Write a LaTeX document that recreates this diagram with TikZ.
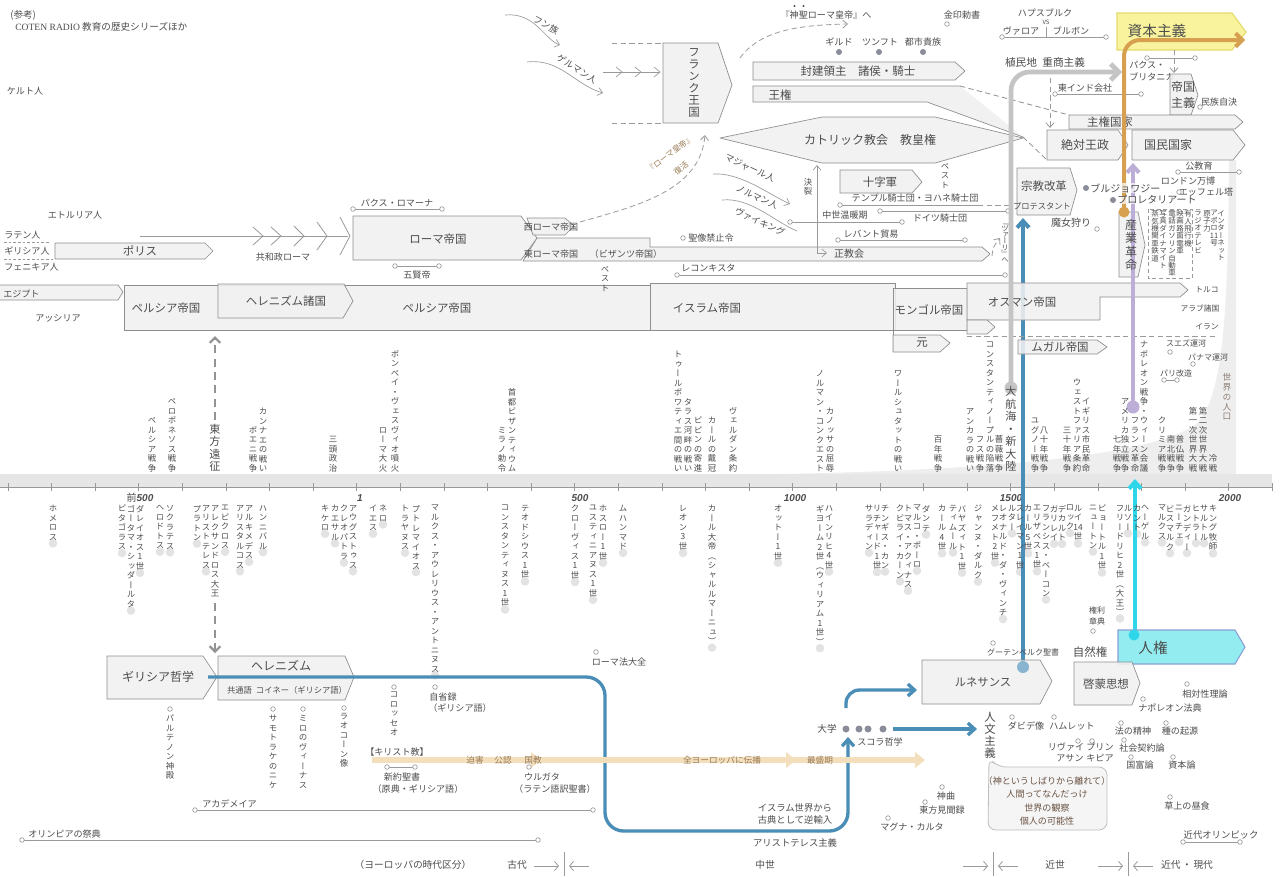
\documentclass[tikz,border=0pt]{standalone}
\usepackage{fontspec}
\setmainfont{Noto Sans CJK JP}
\newfontfamily\jpv[RawFeature=+vert]{Noto Sans CJK JP}
\newfontfamily\numf{Liberation Sans}
\newfontfamily\serf{Liberation Serif}
\usetikzlibrary{arrows.meta}
\pgfdeclarelayer{bg}
\pgfsetlayers{bg,main}
\definecolor{txt}{HTML}{4D4D4D}
\definecolor{boxl}{HTML}{8E8E8E}
\definecolor{boxf}{HTML}{F1F1F1}
\definecolor{linec}{HTML}{9A9A9A}
\definecolor{bandc}{HTML}{E6E6E6}
\definecolor{popc}{HTML}{EEEEEE}
\definecolor{blueA}{HTML}{4A8DB7}
\definecolor{cyanA}{HTML}{2ED6EA}
\definecolor{purpA}{HTML}{BCAED6}
\definecolor{grayA}{HTML}{C4C4C4}
\definecolor{orangeA}{HTML}{D6A050}
\definecolor{yelF}{HTML}{F8F39C}
\definecolor{yelL}{HTML}{E3DB6E}
\definecolor{cyanF}{HTML}{93ECEF}
\definecolor{cyanL}{HTML}{8C9FD6}
\definecolor{xtian}{HTML}{F3DFBC}
\definecolor{xtxt}{HTML}{9A7A55}
\definecolor{calt}{HTML}{6B5444}
\definecolor{dotc}{HTML}{E3E3E3}
\definecolor{dkdot}{HTML}{8A8D99}
\definecolor{popt}{HTML}{8C7B70}
\newcommand\fsz[1]{\fontsize{#1}{#1}\selectfont}
\newcommand\vtloop[1]{\ifx\relax#1\else\hbox to 1em{\hss#1\hss}\expandafter\vtloop\fi}
\newcommand\vtx[2][1.13em]{\vbox{\jpv\baselineskip=#1\lineskiplimit=-100pt\lineskip=0pt\vtloop#2\relax}}
\tikzset{
 lab/.style={inner sep=0pt,text=txt,font=\fsz{6.8}},
 mlab/.style={inner sep=0pt,text=txt,font=\fsz{8.6}},
 vlab/.style={inner sep=0pt,text=txt,font=\fsz{6.3}},
 box/.style={draw=boxl,fill=boxf,fill opacity=0.88,line width=0.5pt,line join=round},
 tl/.style={draw=linec,line width=0.5pt},
 ocs/.style={draw=linec,fill=white,line width=0.5pt},
 dshl/.style={draw=linec,line width=0.6pt,dash pattern=on 4pt off 2.5pt},
 barb/.style={-{Straight Barb[length=3.5pt,width=6pt]}},
}
\newcommand\ocir[2]{\filldraw[ocs] (#1,#2) circle (2.3);}
\newcommand\oln[3]{\draw[tl] (#1,#3) -- (#2,#3);\ocir{#1}{#3}\ocir{#2}{#3}}
\newcommand\vup[3][]{\node[vlab,anchor=south,#1] at (#2,472) {\vtx{#3}};}
\newcommand\vdn[3][]{\node[vlab,anchor=north,#1] (vd#2) at (#2,505) {\vtx{#3}};\begin{pgfonlayer}{bg}\fill[dotc] ([yshift=-2pt]vd#2.south) circle (4.3);\end{pgfonlayer}}
\begin{document}
\begin{tikzpicture}[x=0.75pt,y=-0.75pt]
\begin{pgfonlayer}{bg}\fill[white] (0,0) rectangle (1280,876);\end{pgfonlayer}
\useasboundingbox (0,0) rectangle (1280,876);
% population and axis band
\fill[popc] (780,474) .. controls (1000,470) and (1150,455) .. (1195,425) .. controls (1225,400) and (1228,300) .. (1229,160) -- (1236,160) -- (1236,474) -- cycle;
\fill[bandc] (0,474) rectangle (1272,487);
\draw[draw=gray!80,line width=0.6pt] (0,487) -- (1272,487);
\foreach \k in {0,...,29} \draw[draw=gray!80,line width=0.6pt] ({8+43.6*\k},483) -- ({8+43.6*\k},491);
\node[lab,font=\fsz{7.5}] (y500b) at (140,498) {前{\numf\bfseries\itshape 500}};
\node[lab,font=\fsz{7.5}] (y1) at (360,498) {{\numf\bfseries\itshape 1}};
\node[lab,font=\fsz{7.5}] (y500) at (580,498) {{\numf\bfseries\itshape 500}};
\node[lab,font=\fsz{7.5}] (y1000) at (795,498) {{\numf\bfseries\itshape 1000}};
\node[lab,font=\fsz{7.5}] (y1500) at (1011,498) {{\numf\bfseries\itshape 1500}};
\node[lab,font=\fsz{7.5}] (y2000) at (1230,498) {{\numf\bfseries\itshape 2000}};
% early colour lines (behind)
\draw[blueA,line width=3pt,-{Straight Barb[length=5pt,width=9pt]}] (1023,665) -- (1023,218);
\draw[cyanA,line width=3pt,-{Straight Barb[length=5pt,width=9pt]}] (1135,635) -- (1135,479);
% header
\node[lab,anchor=west,font=\fsz{7.2}] (hdr1) at (10,15) {(参考)};
\node[lab,anchor=west,font=\fsz{7.2}] (hdr2) at (15,27) {{\serf COTEN RADIO} 教育の歴史シリーズほか};
% peoples
\node[lab] (kelt) at (25,91) {ケルト人};
\node[lab] (etr) at (75,215) {エトルリア人};
\node[lab,anchor=west] (lat) at (4,235) {ラテン人};
\draw[dshl,dash pattern=on 2pt off 1.5pt] (4,242)--(50,242);
\node[lab,anchor=west] (gre) at (4,251) {ギリシア人};
\draw[dshl,dash pattern=on 2pt off 1.5pt] (4,259)--(55,259);
\node[lab,anchor=west] (phe) at (4,267) {フェニキア人};
% polis
\draw[box] (55,243)--(205,243)--(213,251)--(205,259)--(55,259)--cycle;
\node[mlab] (polis) at (140,251) {ポリス};
% republic
\draw[tl] (140,236)--(348,236);
\foreach \x/\h in {263/9,281/9,304/10,327/14,350/19} \draw[tl,line width=0.6pt] (\x-10,236-\h)--(\x,236)--(\x-10,236+\h);
\node[lab] (repub) at (283,257) {共和政ローマ};
% egypt persia
\draw[box] (0,285)--(118,285)--(123,292)--(118,300)--(0,300);
\node[lab,anchor=west] (egy) at (3,294) {エジプト};
\node[lab] (assy) at (58,318) {アッシリア};
\draw[box] (124,285) rectangle (650,330);
\draw[box] (218,284)--(344,284)--(353,301)--(343,318)--(218,318)--cycle;
\node[mlab] (pers1) at (166,308) {ペルシア帝国};
\node[mlab] (helst) at (286,301) {ヘレニズム諸国};
\node[mlab] (pers2) at (437,308) {ペルシア帝国};
\draw[box] (650,283) rectangle (895,330);
\node[mlab] (islam) at (707,308) {イスラム帝国};
\draw[box] (893,288) rectangle (967,330);
\draw[boxl,line width=0.5pt] (893,330)--(893,352);
\draw[box] (893,335)--(940,335)--(950,343)--(940,352)--(893,352)--cycle;
\node[mlab] (mong) at (929,310) {モンゴル帝国};
\node[mlab] (yuan) at (922,343) {元};
\draw[box] (967,283)--(1180,283)--(1188,290)--(1180,297)--(1100,297)--(1100,320)--(967,320)--cycle;
\draw[box] (967,320)--(987,320)--(995,327)--(987,334)--(967,334)--cycle;
\node[mlab] (otto) at (1022,302) {オスマン帝国};
\draw[dshl] (967,336)--(1217,336);
\node[lab,font=\fsz{5.8}] (turk) at (1207,290) {トルコ};
\node[lab,font=\fsz{5.8}] (arab) at (1200,308) {アラブ諸国};
\node[lab,font=\fsz{5.8}] (iran) at (1207,327) {イラン};
\draw[box] (1018,340)--(1097,340)--(1107,347)--(1097,354)--(1018,354)--cycle;
\node[mlab] (mughal) at (1060,347) {ムガル帝国};
% rome
\draw[box] (353,216)--(521,216)--(537,238)--(521,260)--(353,260)--cycle;
\node[mlab] (rome) at (438,239) {ローマ帝国};
\draw[box] (537,238)--(650,238)--(650,247)--(982,247)--(990,254)--(982,261)--(523,261)--cycle;
\draw[box] (527,218)--(565,218)--(574,226)--(565,235)--(533,235)--cycle;
\node[lab] (wrome) at (551,227) {西ローマ帝国};
\node[lab] (erome) at (551,254) {東ローマ帝国};
\node[lab] (byz) at (626,254) {（ビザンツ帝国）};
\oln{353}{442}{209}
\node[lab] (pax) at (397,203) {パクス・ロマーナ};
\oln{395}{439}{266}
\node[lab] (gokentei) at (417,275) {五賢帝};
\node[vlab,anchor=north] (pest1) at (605,266) {\vtx{ペスト}};
\draw[dshl,barb] (580,222) .. controls (640,205) and (700,190) .. (705,135);
\node[lab,rotate=38,font=\fsz{6},text=xtxt] (romrev1) at (670,154) {『ローマ皇帝』};
\node[lab,rotate=38,font=\fsz{6},text=xtxt] (romrev2) at (681,168) {復活};
% huns germans
\draw[tl,barb] (505,15) .. controls (535,12) and (545,40) .. (560,45);
\node[lab,rotate=-28] (hun) at (546,25) {フン族};
\draw[tl,barb] (527,62) .. controls (560,58) and (575,85) .. (603,93);
\node[lab,rotate=-32] (germ) at (577,69) {ゲルマン人};
\draw[tl] (603,72)--(660,72);
\foreach \x in {622,641,660} \draw[tl] (\x-6,67)--(\x,72)--(\x-6,77);
% frank
\draw[dshl] (612,43)--(663,43);
\draw[dshl] (612,123)--(663,123);
\draw[box] (663,43)--(718,43)--(732,85)--(718,123)--(663,123)--cycle;
\node[vlab,font=\fsz{8.6}] (frank) at (694,83) {\vtx[1.05em]{フランク王国}};
% holy roman
\draw[dshl,barb] (740,58) .. controls (760,30) and (800,25) .. (848,24);
\node[lab] (hre) at (826,15) {『神聖ローマ皇帝』へ};
\fill[txt] (794.5,6) circle (1.2) (803.5,6) circle (1.2);
\node[lab] (kinin) at (962,15) {金印勅書};
\ocir{947}{24}
\node[lab] (habs) at (1045,13) {ハプスブルク};
\node[lab,font=\fsz{4.5}] (vs) at (1046,22) {VS};
\node[lab] (valo) at (1021,31) {ヴァロア};
\node[lab] (bour) at (1071,31) {ブルボン};
\oln{1002}{1106}{37}
\draw[tl] (1046,27)--(1046,37);
% capitalism
\draw[fill=yelF,draw=yelL,line width=0.8pt] (1117,13)--(1232,13)--(1246,32)--(1232,50)--(1117,50)--cycle;
\node[inner sep=0pt,text=txt,font=\fsz{11}] (cap) at (1157,31) {資本主義};
% guild
\node[lab] (guild) at (839,42) {ギルド};
\node[lab] (zunft) at (880,42) {ツンフト};
\node[lab] (patr) at (923,42) {都市貴族};
\fill[dkdot] (839,52) circle (3) (879,52) circle (3) (923,52) circle (3);
% feudal, kingship
\draw[box] (753,62)--(955,62)--(965,71)--(955,80)--(753,80)--cycle;
\node[mlab] (feud) at (858,71) {封建領主\quad 諸侯・騎士};
\fill[boxf] (753,86)--(960,86)--(1023,137)--(927,102)--(753,102)--cycle;
\draw[boxl,line width=0.5pt] (960,86)--(753,86)--(753,102)--(927,102)--(1023,137);
\draw[dshl,draw=boxl] (960,86)--(1069,115);
\draw[dshl,draw=boxl] (1023,137)--(1047,160);
\node[mlab] (ouken) at (780,95) {王権};
% catholic
\draw[box] (720,138)--(822,117)--(935,117)--(1023,138)--(935,163)--(822,163)--cycle;
\node[mlab,font=\fsz{9}] (cath) at (870,140) {カトリック教会\quad 教皇権};
% crusade etc
\draw[box] (840,170)--(912,170)--(922,182)--(912,193)--(840,193)--cycle;
\node[mlab] (crus) at (880,182) {十字軍};
\node[vlab] (pest2) at (945,176) {\vtx{ペスト}};
\node[vlab] (ketsu) at (808,187) {\vtx{決裂}};
\draw[tl,{Straight Barb[length=3.5pt,width=6pt]}-{Straight Barb[length=3.5pt,width=6pt]}] (817,165)--(817,253)--(827,253);
\node[lab,font=\fsz{7.5}] (orth) at (849,254) {正教会};
\draw[tl,barb] (713,174) .. controls (740,172) and (770,195) .. (790,204);
\node[lab,rotate=-25] (magy) at (750,168) {マジャール人};
\draw[tl] (722,200) .. controls (750,197) and (775,222) .. (797,231);
\node[lab,rotate=-25] (norm) at (757,197) {ノルマン人};
\node[lab,rotate=-25] (vik) at (760,222) {ヴァイキング};
\node[lab] (templ) at (915,198) {テンプル騎士団・ヨハネ騎士団};
\draw[tl] (840,205)--(978,205);
\draw[dshl] (978,205)--(1010,205);
\ocir{840}{205}
\draw[tl] (880,211)--(1008,211);
\ocir{880}{211}\ocir{1008}{211}
\node[lab] (teut) at (940,218) {ドイツ騎士団};
\oln{790}{902}{222}
\node[lab,fill=white,inner xsep=1pt] (warm) at (845,215) {中世温暖期};
\node[lab] (levant) at (871,234) {レバント貿易};
\oln{838}{965}{240}
\ocir{683}{238}
\node[lab,anchor=west] (icon) at (688,238) {聖像禁止令};
\oln{677}{1005}{275}
\node[lab,anchor=west] (recon) at (681,268) {レコンキスタ};
\node[vlab,font=\fsz{5.5}] (tsar) at (1005,243) {\vtx[0.85em]{『ツァーリ』へ}};
\draw[dshl,barb] (992,256) .. controls (993,247) .. (1000,238);
% colonial
\node[mlab,font=\fsz{8}] (colon) at (1045,62) {植民地\enspace 重商主義};
\draw[dshl,barb] (1050,78)--(1050,128);
\node[lab] (eic) at (1085,88) {東インド会社};
\oln{1055}{1141}{94}
\node[lab,anchor=west] (paxb1) at (1129,65) {パクス・};
\node[lab,anchor=west] (paxb2) at (1129,77) {ブリタニカ};
\oln{1147}{1195}{58}
\draw[dshl,barb] (1174,50)--(1174,73);
\draw[box] (1170,74)--(1191,74)--(1198,95)--(1191,115)--(1170,115)--cycle;
\node[inner sep=0pt,text=txt,align=center,font={\fontsize{9}{12}\selectfont}] (imper) at (1183,95) {帝国\\主義};
\node[lab] (selfdet) at (1219,102) {民族自決};
\ocir{1200}{107}
\draw[box] (1069,115)--(1235,115)--(1243,122)--(1235,129)--(1069,129)--cycle;
\node[mlab] (sover) at (1110,122) {主権国家};
\draw[box] (1047,130)--(1118,130)--(1128,145)--(1118,160)--(1047,160)--cycle;
\node[mlab,font=\fsz{9}] (absol) at (1085,145) {絶対王政};
\draw[box] (1132,130)--(1233,130)--(1245,145)--(1233,160)--(1132,160)--cycle;
\node[mlab,font=\fsz{9}] (nation) at (1168,145) {国民国家};
% reformation
\draw[box] (1017,168)--(1070,168)--(1077,190)--(1070,215)--(1017,215)--cycle;
\node[mlab] (refor) at (1044,186) {宗教改革};
\node[lab,font=\fsz{6.2}] (prot) at (1042,206) {プロテスタント};
% industrial revolution box
\draw[box] (1119,212)--(1138,212)--(1145,245)--(1138,277)--(1119,277)--cycle;
% late colour arrows
\draw[grayA,line width=3.5pt,rounded corners=14pt,-{Straight Barb[length=6pt,width=12pt]}] (1011,388)--(1011,72)--(1122,72);
\fill[grayA] (1011,388) circle (6.5);
\draw[purpA,line width=3pt,-{Straight Barb[length=5pt,width=9pt]}] (1133,407)--(1133,163);
\fill[purpA] (1133,407) circle (6.5);
\draw[orangeA,line width=3pt,rounded corners=12pt,-{Straight Barb[length=5pt,width=10pt]}] (1124,212)--(1124,40)--(1245,40);
\fill[orangeA] (1124,212) circle (5.5);
% labels over the colour lines
\fill[dkdot] (1086,188) circle (3) (1113,200) circle (3);
\node[lab,anchor=west,font=\fsz{7.5},fill=white,fill opacity=0.7,text opacity=1] (bourg) at (1090,188) {ブルジョワジー};
\node[lab,anchor=west,font=\fsz{7.5},fill=white,fill opacity=0.7,text opacity=1] (prol) at (1117,200) {プロレタリアート};
\node[lab,font=\fsz{7.5}] (witch) at (1071,223) {魔女狩り};
\ocir{1097}{229}
\node[vlab,font=\fsz{9}] (indus) at (1131,245) {\vtx[1.1em]{産業革命}};
\draw[dshl,dash pattern=on 3pt off 2pt] (1148,209) rectangle (1192,278);
\node[vlab,anchor=north,font=\fsz{5.6}] (inv1) at (1155,210) {\vtx[1.0em]{蒸気機関車鉄道}};
\node[vlab,anchor=north,font=\fsz{5.6}] (inv2) at (1163,210) {\vtx[1.0em]{写真ダイナマイト}};
\node[vlab,anchor=north,font=\fsz{5.6}] (inv3) at (1172,210) {\vtx[1.0em]{電話ガソリン自動車}};
\node[vlab,anchor=north,font=\fsz{5.6}] (inv4) at (1180,210) {\vtx[1.0em]{映画路面電車}};
\node[vlab,anchor=north,font=\fsz{5.6}] (inv5) at (1188,210) {\vtx[1.0em]{有人飛行機}};
\node[vlab,anchor=north,font=\fsz{5.6}] (inv6) at (1198,210) {\vtx[1.0em]{ラジオテレビ}};
\node[vlab,anchor=north,font=\fsz{5.6}] (inv7) at (1207,210) {\vtx[1.0em]{原子力}};
\node[vlab,anchor=north,font=\fsz{5.6}] (inv8) at (1214,210) {\vtx[1.0em]{アポロ{11}号}};
\node[vlab,anchor=north,font=\fsz{5.6}] (inv9) at (1221,210) {\vtx[1.0em]{インターネット}};
\node[lab] (pubed) at (1199,166) {公教育};
\oln{1178}{1239}{172}
\node[lab] (lonexp) at (1188,181) {ロンドン万博};
\node[lab] (eiffel) at (1206,192) {エッフェル塔};
\ocir{1179}{192}
% canals
\node[lab,font=\fsz{6}] (suez) at (1186,343) {スエズ運河};
\ocir{1170}{352}
\node[lab,font=\fsz{6}] (panama) at (1208,357) {パナマ運河};
\ocir{1193}{364}
\node[lab,font=\fsz{6}] (paris) at (1176,373) {パリ改造};
\oln{1164}{1177}{380}
\node[vlab,font=\fsz{6.5},text=popt] (popu) at (1227,397) {\vtx{世界の人口}};
% above axis
\vup{152}{ペルシア戦争}
\vup{172}{ペロポネソス戦争}
\vup[font=\fsz{8.3}]{215}{東方遠征}
\vup{253}{ポエニ戦争}
\vup{263}{カンナエの戦い}
\vup{333}{三頭政治}
\vup{383}{ローマ大火}
\vup{395}{ポンペイ・ヴェスヴィオ噴火}
\vup{502}{ミラノ勅令}
\vup{512}{首都ビザンティウム}
\vup{678}{トゥールポワティエ間の戦い}
\vup{688}{タラス河畔の戦い}
\vup{698}{ピピンの寄進}
\vup{712}{カールの戴冠}
\vup{733}{ヴェルダン条約}
\vup{820}{ノルマン・コンクエスト}
\vup{830}{カノッサの屈辱}
\vup{898}{ワールシュタットの戦い}
\vup{938}{百年戦争}
\vup{970}{アンカラの戦い}
\vup{980}{フス戦争}
\vup{990}{コンスタンティノープルの陥落}
\vup{999}{薔薇戦争}
\vup[font=\fsz{8.3}]{1011}{大航海・新大陸}
\vup{1035}{ユグノー戦争}
\vup{1044}{八十年戦争}
\vup{1067}{三十年戦争}
\vup{1077}{ウェストファリア条約}
\vup{1086}{イギリス市民革命}
\vup{1117}{七年戦争}
\vup{1125}{アメリカ独立戦争}
\vup{1135}{フランス革命}
\vup{1144}{ナポレオン戦争・ウィーン会議}
\vup{1162}{クリミア戦争}
\vup{1171}{南北戦争}
\vup{1180}{普仏戦争}
\vup{1193}{第一次世界大戦}
\vup{1203}{第二次世界大戦}
\vup{1213}{冷戦}
% below axis
\vdn{53}{ホメロス}
\vdn{122}{ピタゴラス}
\vdn{131}{ゴータマ・シッダールタ}
\vdn{140}{ダレイオス1世}
\vdn{160}{ヘロドトス}
\vdn{170}{ソクラテス}
\vdn{197}{プラトン}
\vdn{206}{アリストテレス}
\node[vlab,anchor=north] (alex) at (215,505) {\vtx{アレクサンドロス大王}};
\vdn{225}{エピクロス}
\vdn{240}{アリスタルコス}
\vdn{249}{アルキメデス}
\vdn{263}{ハンニバル}
\vdn{325}{キケロ}
\vdn{335}{カエサル}
\vdn{344}{クレオパトラ}
\vdn{353}{アウグストゥス}
\vdn{373}{イエス}
\vdn{383}{ネロ}
\vdn{405}{トラヤヌス}
\vdn{416}{プトレマイオス}
\vdn{435}{マルクス・アウレリウス・アントニヌス}
\vdn{505}{コンスタンティヌス1世}
\vdn{525}{テオドシウス1世}
\vdn{575}{クローヴィス1世}
\vdn{593}{ユスティニアヌス1世}
\vdn{603}{ホスロー1世}
\vdn{623}{ムハンマド}
\vdn{683}{レオン3世}
\vdn{712}{カール大帝（シャルルマーニュ）}
\vdn{778}{オットー1世}
\vdn{820}{ギヨーム2世（ウィリアム1世）}
\vdn{829}{ハインリヒ4世}
\vdn{869}{サラディン}
\vdn{877}{リチャード1世}
\vdn{885}{チンギス・カン}
\vdn{900}{クビライ・カーン}
\vdn{908}{トマス・アクィナス}
\vdn{917}{マルコ・ポーロ}
\vdn{926}{ダンテ}
\vdn{942}{カール4世}
\vdn{953}{ティムール}
\vdn{962}{バヤズィト1世}
\vdn{978}{ジャンヌ・ダルク}
\vdn{995}{メフメト2世}
\vdn{1003}{レオナルド・ダ・ヴィンチ}
\vdn{1012}{ルター}
\vdn{1020}{スレイマン1世}
\vdn{1028}{カール5世}
\vdn{1037}{エリザベス1世}
\vdn{1046}{フランシス・ベーコン}
\vdn{1054}{ガリレイ}
\vdn{1062}{デカルト}
\vdn{1070}{ロック}
\vdn{1078}{ルイ{14}世}
\vdn{1093}{ニュートン}
\vdn{1102}{ピョートル1世}
\vdn{1120}{フリードリヒ2世（大王）}
\vdn{1128}{ルソー}
\vdn{1137}{カント}
\vdn{1145}{ヘーゲル}
\vdn{1162}{マルクス}
\vdn{1170}{ビスマルク}
\vdn{1179}{ニーチェ}
\vdn{1187}{ガンディー}
\vdn{1196}{ヒトラー}
\vdn{1204}{サルトル}
\vdn{1213}{キング牧師}
% eastern expedition arrows
\draw[draw=gray!85,line width=1.6pt,dash pattern=on 6pt off 4pt,-{Straight Barb[length=4pt,width=8pt]}] (215,420)--(215,336);
\draw[draw=gray!85,line width=1.6pt,dash pattern=on 6pt off 4pt,-{Straight Barb[length=4pt,width=8pt]}] (215,603)--(215,653);
% lower section
\draw[box] (107,656)--(203,656)--(217,677)--(203,699)--(107,699)--cycle;
\node[mlab,font=\fsz{9}] (grphil) at (158,677) {ギリシア哲学};
\draw[box] (218,656)--(345,656)--(354,677)--(345,700)--(218,700)--cycle;
\node[mlab,font=\fsz{9}] (hellen) at (281,666) {ヘレニズム};
\node[lab,font=\fsz{6.2}] (koine) at (287,690) {共通語\enspace コイネー（ギリシア語）};
\draw[blueA,line width=2.5pt,rounded corners=14pt,-{Straight Barb[length=5pt,width=9pt]}] (208,677)--(605,677)--(605,831)--(848,831)--(848,737);
\draw[blueA,line width=2.5pt,rounded corners=10pt,-{Straight Barb[length=5pt,width=9pt]}] (846,708)--(846,690)--(917,690);
\draw[blueA,line width=2.5pt,-{Straight Barb[length=5pt,width=9pt]}] (893,729)--(977,729);
\fill[dkdot] (846,729) circle (3.5) (859,729) circle (3.5) (868,729) circle (3.5) (883,729) circle (3.5);
\node[lab,font=\fsz{7.2}] (univ) at (827,729) {大学};
\node[lab] (schol) at (880,742) {スコラ哲学};
\draw[box] (922,660)--(1040,660)--(1052,681)--(1040,704)--(922,704)--cycle;
\node[mlab,font=\fsz{8.5}] (renai) at (983,682) {ルネサンス};
\fill[blueA!65] (1023,667) circle (6);
\node[lab,font=\fsz{6}] (guten) at (1023,652) {グーテンベルク聖書};
\ocir{993}{643}
\node[mlab] (natr) at (1090,652) {自然権};
\node[inner sep=0pt,text=txt,align=center,font={\fontsize{6}{7.8}\selectfont}] (billr) at (1097,616) {権利\\章典};
\ocir{1093}{631}
\draw[fill=cyanF,draw=cyanL,line width=0.8pt] (1118,630)--(1235,630)--(1245,647)--(1235,664)--(1118,664)--cycle;
\fill[cyanA] (1134,635) circle (5.5);
\node[inner sep=0pt,text=txt,font=\fsz{11}] (hr) at (1153,648) {人権};
\draw[box] (1074,662)--(1132,662)--(1140,683)--(1132,705)--(1074,705)--cycle;
\node[mlab] (enlight) at (1106,684) {啓蒙思想};
\node[vlab,font=\fsz{8.6}] (human) at (990,735) {\vtx[1.05em]{人文主義}};
\draw[draw=gray!50,fill=gray!8,line width=0.6pt,rounded corners=6pt] (989,758)--(998,767)--(1107,767)--(1107,830)--(988,830)--cycle;
\node[inner sep=0pt,text=calt,font=\fsz{6.8}] (c1) at (1047,781) {（神というしばりから離れて）};
\node[inner sep=0pt,text=calt,font=\fsz{6.8}] (c2) at (1047,794) {人間ってなんだっけ};
\node[inner sep=0pt,text=calt,font=\fsz{6.8}] (c3) at (1047,808) {世界の観察};
\node[inner sep=0pt,text=calt,font=\fsz{6.8}] (c4) at (1047,821) {個人の可能性};
% works
\ocir{1012}{717}\node[lab] (david) at (1026,726) {ダビデ像};
\ocir{1054}{717}\node[lab] (hamlet) at (1072,726) {ハムレット};
\ocir{1078}{741}\node[lab] (levi1) at (1066,747) {リヴァイ};\node[lab] (levi2) at (1070,758) {アサン};
\ocir{1092}{741}\node[lab] (prin1) at (1100,747) {プリン};\node[lab] (prin2) at (1100,758) {キピア};
\ocir{1121}{723}\node[lab] (esprit) at (1133,731) {法の精神};
\ocir{1166}{723}\node[lab] (origin) at (1180,731) {種の起源};
\ocir{1124}{740}\node[lab] (social) at (1142,748) {社会契約論};
\ocir{1131}{757}\node[lab] (wealth) at (1140,765) {国富論};
\ocir{1173}{757}\node[lab] (kapital) at (1182,765) {資本論};
\ocir{1187}{684}\node[lab] (relat) at (1205,694) {相対性理論};
\ocir{1143}{699}\node[lab] (napcode) at (1170,708) {ナポレオン法典};
\ocir{1170}{797}\node[lab] (dejeuner) at (1187,806) {草上の昼食};
\node[lab,font=\fsz{7}] (olymp2) at (1221,835) {近代オリンピック};
\oln{1183}{1240}{842}
\ocir{942}{787}\node[lab] (divine) at (946,796) {神曲};
\ocir{925}{802}\node[lab] (marco) at (942,810) {東方見聞録};
\ocir{888}{818}\node[lab] (magna) at (912,827) {マグナ・カルタ};
\node[lab,font=\fsz{7}] (islam2a) at (795,808) {イスラム世界から};
\node[lab,font=\fsz{7}] (islam2b) at (795,820) {古典として逆輸入};
\node[lab,font=\fsz{7}] (arist) at (795,843) {アリストテレス主義};
% christianity
\draw[xtian,line width=4pt] (372,760)--(916,760);
\foreach \x in {541,796,925} \fill[xtian] (\x-10,752)--(\x,760)--(\x-10,768)--cycle;
\node[lab] (xt) at (397,752) {【キリスト教】};
\foreach \x/\t in {475/迫害,503/公認,533/国教,722/全ヨーロッパに伝播,820/最盛期} \node[lab,text=xtxt,font=\fsz{6.5}] at (\x,760) {\t};
\oln{387}{415}{767}
\node[lab] (nt1) at (402,777) {新約聖書};
\node[lab] (nt2) at (418,789) {（原典・ギリシア語）};
\ocir{529}{767}
\node[lab] (vul1) at (542,777) {ウルガタ};
\node[lab] (vul2) at (555,789) {（ラテン語訳聖書）};
\ocir{435}{687}
\node[lab] (medit1) at (443,697) {自省録};
\node[lab] (medit2) at (460,708) {（ギリシア語）};
\ocir{394}{687}\node[vlab,anchor=north] (colos) at (394,692) {\vtx{コロッセオ}};
\ocir{344}{708}\node[vlab,anchor=north] (laoc) at (344,713) {\vtx{ラオコーン像}};
\ocir{170}{709}\node[vlab,anchor=north] (parth) at (170,715) {\vtx{パルテノン神殿}};
\ocir{273}{709}\node[vlab,anchor=north] (nike) at (273,715) {\vtx{サモトラケのニケ}};
\ocir{303}{709}\node[vlab,anchor=north] (venus) at (303,715) {\vtx{ミロのヴィーナス}};
\oln{195}{593}{810}
\node[lab,anchor=south west] (acad) at (202,808) {アカデメイア};
\oln{22}{538}{840}
\node[lab,anchor=south west] (olymp) at (28,838) {オリンピアの祭典};
\ocir{596}{652}
\node[lab] (corpus) at (619,662) {ローマ法大全};
% periods
\node[lab,font=\fsz{7.3}] (period) at (413,865) {（ヨーロッパの時代区分）};
\node[lab,font=\fsz{7.3}] (ancient) at (517,865) {古代};
\node[lab,font=\fsz{7.3}] (medieval) at (765,865) {中世};
\node[lab,font=\fsz{7.3}] (early) at (1055,865) {近世};
\node[lab,font=\fsz{7.3}] (modern) at (1187,865) {近代\,・\,現代};
\foreach \x in {564,993,1128} {
  \draw[tl,line width=0.6pt] (\x,852)--(\x,876);
  \draw[tl,line width=0.6pt,-{Straight Barb[length=3pt,width=7pt]}] (\x-30,866)--(\x-5,866);
  \draw[tl,line width=0.6pt,-{Straight Barb[length=3pt,width=7pt]}] (\x+25,866)--(\x+5,866);
}
\end{tikzpicture}
\end{document}
